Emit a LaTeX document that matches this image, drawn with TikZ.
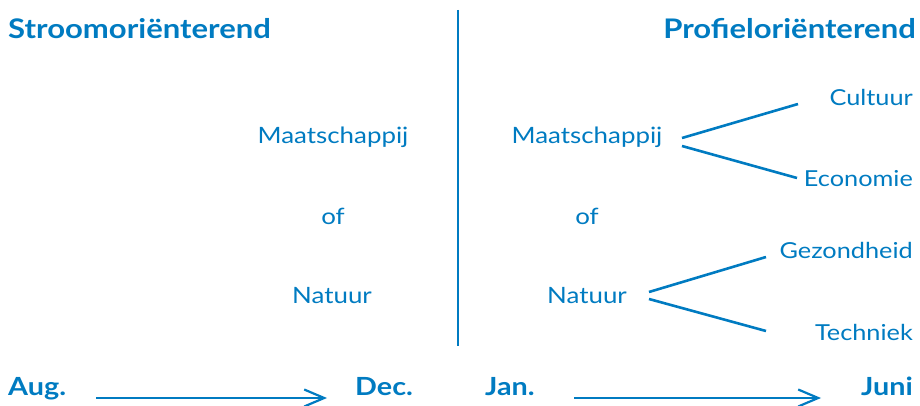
\documentclass[tikz,border=0pt]{standalone}
\usepackage{fontspec}
\setmainfont[FakeStretch=1.15]{Lato}
\usetikzlibrary{arrows.meta}
\definecolor{ink}{RGB}{0,123,193}
\begin{document}
\begin{tikzpicture}[x=1pt,y=-1pt,
  every node/.style={inner sep=0pt,text=ink},
  title/.style={font=\fontsize{27}{31}\selectfont\bfseries,anchor=base},
  month/.style={font=\fontsize{25}{29}\selectfont\bfseries,anchor=base},
  term/.style={font=\fontsize{22.5}{26}\selectfont,anchor=base},
  leaf/.style={font=\fontsize{22}{26}\selectfont,anchor=base east},
  link/.style={draw=ink,line width=2.6pt},
  timeline/.style={draw=ink,line width=2.2pt,-{Straight Barb[length=20pt,width=17pt,line width=2.2pt]}}]
\useasboundingbox (0,0) rectangle (920,406);
% titles
\node[title,anchor=base west] (st) at (8,39) {Stroomoriënterend};
\node[title,anchor=base east] (pr) at (916,39) {Profieloriënterend};
% divider
\coordinate (dtop) at (458,10);
\coordinate (dbot) at (458,346);
\draw[link,line width=2.8pt] (dtop) -- (dbot);
% left column
\node[term] (mL) at (333,144) {Maatschappij};
\node[term] (oL) at (333,224) {of};
\node[term] (nL) at (332,303) {Natuur};
% right column
\node[term] (mR) at (587,144) {Maatschappij};
\node[term] (oR) at (587,224) {of};
\node[term] (nR) at (587,303) {Natuur};
% leaves
\node[leaf] (cu) at (913,106) {Cultuur};
\node[leaf] (ec) at (913,186) {Economie};
\node[leaf] (ge) at (913,258) {Gezondheid};
\node[leaf] (te) at (913,340) {Techniek};
% branch coordinates
\coordinate (mA) at (682,138);
\coordinate (mB) at (682,146);
\coordinate (cuE) at (798,104);
\coordinate (ecE) at (797,178);
\coordinate (nA) at (649,292);
\coordinate (nB) at (649,299);
\coordinate (geE) at (766,257);
\coordinate (teE) at (766,331);
\draw[link] (mA) -- (cuE);
\draw[link] (mB) -- (ecE);
\draw[link] (nA) -- (geE);
\draw[link] (nB) -- (teE);
% months
\node[month,anchor=base west] (aug) at (8,395) {Aug.};
\node[month,anchor=base west] (dec) at (355,395) {Dec.};
\node[month,anchor=base west] (jan) at (485,395) {Jan.};
\node[month,anchor=base east] (jun) at (913,395) {Juni};
\coordinate (a1s) at (96,398);
\coordinate (a1e) at (327,398);
\coordinate (a2s) at (574,398);
\coordinate (a2e) at (821,398);
\draw[timeline] (a1s) -- (a1e);
\draw[timeline] (a2s) -- (a2e);
\end{tikzpicture}
\end{document}
